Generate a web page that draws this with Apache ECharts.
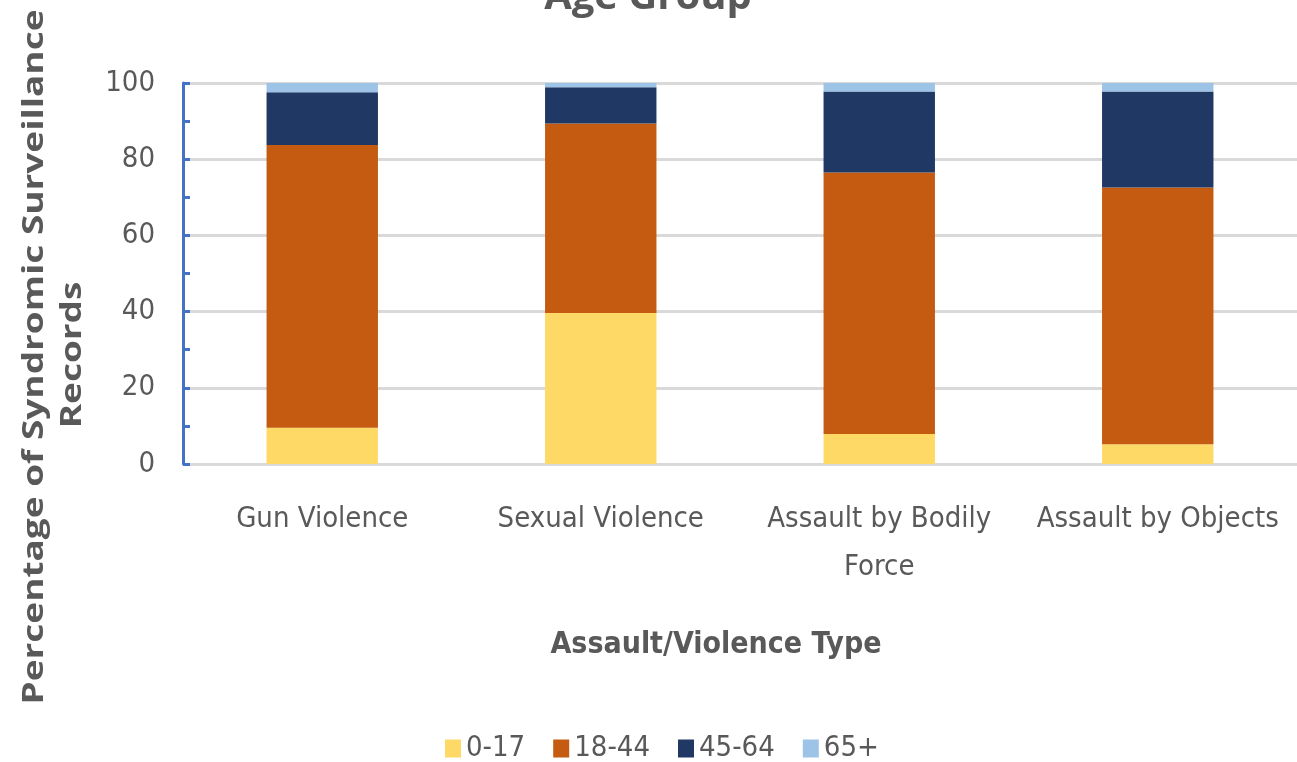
<!DOCTYPE html>
<html><head><meta charset="utf-8">
<script src="https://cdn.jsdelivr.net/npm/echarts@6/dist/echarts.min.js"></script>
<style>html,body{margin:0;padding:0;background:#fff}#c{width:1297px;height:762px}</style>
</head><body><div id="c"></div>
<script>
const categories = ['Gun Violence', 'Sexual Violence', 'Assault by Bodily\nForce', 'Assault by Objects'];
const seriesNames = ['0-17', '18-44', '45-64', '65+'];
const age0_17 = [9.5, 39.6, 7.9, 5.2];
const age18_44 = [74.2, 49.8, 68.6, 67.4];
const age45_64 = [13.9, 9.5, 21.3, 25.2];
const age65plus = [2.4, 1.1, 2.2, 2.6];
const yTicks = [0, 20, 40, 60, 80, 100];

const colors = ['#FFD966', '#C55A11', '#203864', '#9DC3E6'];
const font = "'Liberation Sans Narrow','DejaVu Sans Condensed','Open Sans',sans-serif";
const values = [age0_17, age18_44, age45_64, age65plus];

const chart = echarts.init(document.getElementById('c'));
chart.setOption({
  animation: false,
  backgroundColor: '#fff',
  grid: { left: 183, right: -2, top: 83, bottom: 298, containLabel: false },
  legend: {
    data: seriesNames, bottom: -6, left: 440,
    itemWidth: 16, itemHeight: 18, itemGap: 28, icon: 'rect',
    textStyle: { fontFamily: font, fontSize: 29, color: '#595959' }
  },
  xAxis: {
    type: 'category', data: categories,
    axisLine: { show: false }, axisTick: { show: false },
    axisLabel: { interval: 0, fontFamily: font, fontSize: 29, color: '#595959', margin: 31, lineHeight: 48 }
  },
  yAxis: {
    type: 'value', min: yTicks[0], max: yTicks[yTicks.length - 1], interval: 20,
    axisLine: { show: true, lineStyle: { color: '#4472C4', width: 3 } },
    axisTick: { show: true, inside: true, length: 7, lineStyle: { color: '#4472C4', width: 3 } },
    minorTick: { show: true, splitNumber: 2, length: 7, lineStyle: { color: '#4472C4', width: 3 } },
    splitLine: { lineStyle: { color: '#d9d9d9', width: 3 } },
    axisLabel: { fontFamily: font, fontSize: 29, color: '#595959', margin: 28 }
  },
  graphic: [
    { type: 'text', x: 648, y: 18, style: { text: 'Age Group', font: "bold 40px 'Open Sans',sans-serif", fill: '#595959', textAlign: 'center', textVerticalAlign: 'bottom' } },
    { type: 'text', x: 716, y: 645, style: { text: 'Assault/Violence Type', font: "bold 30px " + font, fill: '#595959', textAlign: 'center', textVerticalAlign: 'middle' } },
    { type: 'text', x: 35, y: 357, rotation: Math.PI / 2, scaleX: 1.32, style: { text: 'Percentage of Syndromic Surveillance', font: "bold 28px 'Open Sans',sans-serif", fill: '#595959', textAlign: 'center', textVerticalAlign: 'middle' } },
    { type: 'text', x: 73, y: 355, rotation: Math.PI / 2, scaleX: 1.32, style: { text: 'Records', font: "bold 28px 'Open Sans',sans-serif", fill: '#595959', textAlign: 'center', textVerticalAlign: 'middle' } }
  ],
  series: seriesNames.map((n, i) => ({
    name: n, type: 'bar', stack: 'total', data: values[i],
    barCategoryGap: '60%', itemStyle: { color: colors[i] }
  }))
});
</script></body></html>
